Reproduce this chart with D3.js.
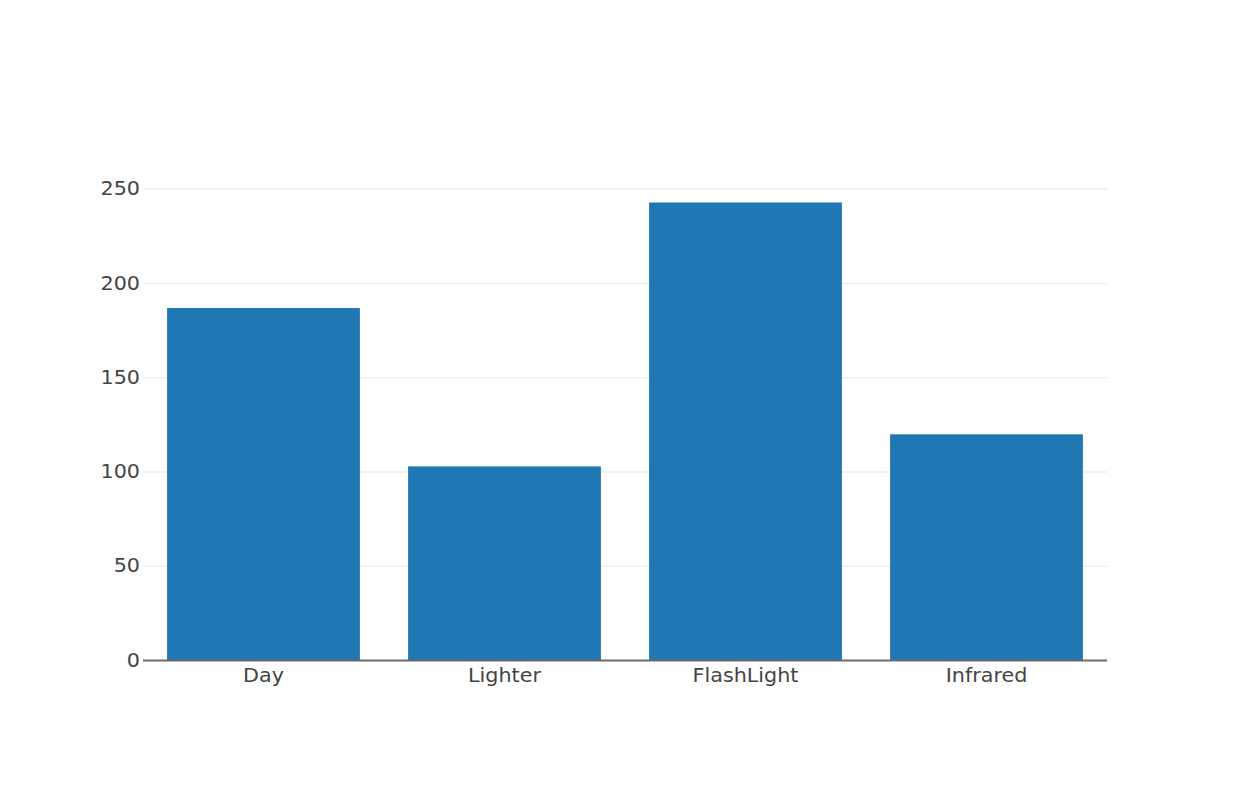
<!DOCTYPE html>
<html>
<head>
<meta charset="utf-8">
<script src="https://cdn.jsdelivr.net/npm/d3@7"></script>
<style>
  html, body { margin: 0; padding: 0; background: #fff; }
  svg { display: block; }
  text { font-family: "DejaVu Sans", Verdana, sans-serif; fill: #444; }
</style>
</head>
<body>
<svg id="chart" width="1250" height="804"></svg>
<script>
const categories = ["Day", "Lighter", "FlashLight", "Infrared"];
const values = [187, 103, 243, 120];
const yTicks = [0, 50, 100, 150, 200, 250];

const svg = d3.select("#chart");
const left = 143, right = 1107, zeroY = 660.5, topTickY = 189.3;

const x = d3.scaleBand().domain(categories).range([left, right])
  .paddingInner(0.2).paddingOuter(0.1);
const y = d3.scaleLinear().domain([0, 250]).range([zeroY, topTickY]);

const fontSize = 19, sx = 1.09;

// gridlines
svg.append("g").selectAll("line")
  .data(yTicks.filter(d => d !== 0))
  .join("line")
  .attr("x1", left).attr("x2", right)
  .attr("y1", d => y(d)).attr("y2", d => y(d))
  .attr("stroke", "#eeeeee").attr("stroke-width", 1.5);

// bars
svg.append("g").selectAll("rect")
  .data(categories.map((c, i) => ({ c, v: values[i] })))
  .join("rect")
  .attr("x", d => x(d.c))
  .attr("width", x.bandwidth())
  .attr("y", d => y(d.v))
  .attr("height", d => y(0) - y(d.v))
  .attr("fill", "#1f77b4");

// x axis line
svg.append("line")
  .attr("x1", left).attr("x2", right)
  .attr("y1", y(0)).attr("y2", y(0))
  .attr("stroke", "#6b6b6b").attr("stroke-width", 2);

// y tick labels
svg.append("g").selectAll("text")
  .data(yTicks)
  .join("text")
  .attr("transform", d => `translate(140,${y(d) + 6}) scale(${sx},1)`)
  .attr("text-anchor", "end")
  .attr("font-size", fontSize)
  .text(d => d);

// x tick labels
svg.append("g").selectAll("text")
  .data(categories)
  .join("text")
  .attr("transform", d => `translate(${x(d) + x.bandwidth() / 2},${682}) scale(${sx},1)`)
  .attr("text-anchor", "middle")
  .attr("font-size", fontSize)
  .text(d => d);
</script>
</body>
</html>
